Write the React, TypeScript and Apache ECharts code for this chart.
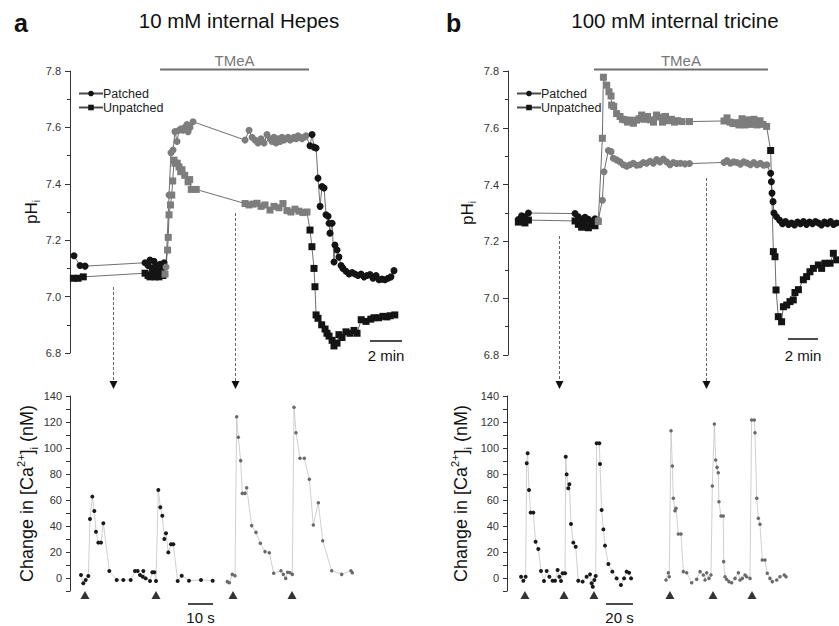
import React, { useEffect, useRef } from "react";
import * as echarts from "echarts";

// ---------- data ----------
// Panel a (10 mM Hepes): time in minutes, pHi
const patchedA: number[][] = [
  [0.25, 7.145], [0.63, 7.11], [0.94, 7.108], [4.69, 7.12], [4.88, 7.11], [5.0, 7.13], [5.13, 7.1], [5.25, 7.125],
  [5.38, 7.11], [5.5, 7.09], [5.63, 7.115], [5.75, 7.1], [5.88, 7.12], [6.0, 7.105], [6.19, 7.36], [6.31, 7.51],
  [6.44, 7.52], [6.56, 7.585], [6.69, 7.55], [6.81, 7.59], [6.94, 7.595], [7.06, 7.59], [7.19, 7.6], [7.31, 7.61],
  [7.38, 7.585], [7.5, 7.6], [7.69, 7.62], [10.94, 7.555], [11.19, 7.59], [11.38, 7.565], [11.56, 7.555],
  [11.75, 7.545], [11.94, 7.56], [12.13, 7.545], [12.31, 7.575], [12.5, 7.56], [12.63, 7.55], [12.75, 7.565],
  [12.88, 7.545], [13.0, 7.56], [13.13, 7.55], [13.25, 7.565], [13.38, 7.555], [13.5, 7.56], [13.63, 7.565],
  [13.75, 7.555], [13.88, 7.56], [14.0, 7.565], [14.13, 7.56], [14.25, 7.57], [14.38, 7.565], [14.5, 7.56],
  [14.63, 7.565], [14.75, 7.57], [15.0, 7.535], [15.13, 7.575], [15.25, 7.53], [15.38, 7.527], [15.5, 7.42],
  [15.63, 7.32], [15.75, 7.39], [15.88, 7.385], [16.0, 7.29], [16.13, 7.285], [16.19, 7.26], [16.25, 7.225],
  [16.38, 7.26], [16.5, 7.123], [16.56, 7.183], [16.69, 7.165], [16.81, 7.14], [16.94, 7.11], [17.06, 7.1],
  [17.25, 7.09], [17.44, 7.08], [17.63, 7.085], [17.81, 7.08], [18.0, 7.075], [18.19, 7.08], [18.38, 7.07],
  [18.56, 7.075], [18.75, 7.078], [18.94, 7.065], [19.13, 7.075], [19.31, 7.06], [19.5, 7.062], [19.69, 7.06],
  [19.88, 7.065], [20.06, 7.07], [20.25, 7.092],
];
const unpatchedA: number[][] = [
  [0.21, 7.065], [0.5, 7.065], [0.83, 7.07], [4.69, 7.083], [4.88, 7.075], [5.0, 7.07], [5.13, 7.08], [5.31, 7.07],
  [5.44, 7.085], [5.56, 7.07], [5.69, 7.08], [5.81, 7.075], [5.94, 7.08], [6.1, 7.165], [6.14, 7.21], [6.19, 7.29],
  [6.28, 7.325], [6.36, 7.36], [6.42, 7.41], [6.5, 7.484], [6.56, 7.473], [6.7, 7.473], [6.81, 7.46], [6.92, 7.443],
  [7.0, 7.45], [7.17, 7.43], [7.38, 7.407], [7.48, 7.415], [7.58, 7.38], [7.89, 7.38], [10.94, 7.33], [11.19, 7.325],
  [11.44, 7.328], [11.69, 7.331], [11.94, 7.32], [12.19, 7.325], [12.5, 7.307], [12.75, 7.32], [13.06, 7.315],
  [13.31, 7.33], [13.56, 7.305], [13.81, 7.3], [14.06, 7.31], [14.31, 7.303], [14.56, 7.298], [14.81, 7.3],
  [15.0, 7.236], [15.12, 7.177], [15.25, 7.1], [15.31, 7.035], [15.38, 6.935], [15.5, 6.923], [15.73, 6.9],
  [15.94, 6.885], [16.06, 6.87], [16.19, 6.86], [16.38, 6.845], [16.5, 6.825], [16.69, 6.835], [16.81, 6.865],
  [17.0, 6.855], [17.25, 6.875], [17.5, 6.87], [17.75, 6.88], [17.94, 6.87], [18.2, 6.918], [18.5, 6.912],
  [18.8, 6.92], [19.0, 6.925], [19.3, 6.925], [19.56, 6.93], [19.8, 6.928], [20.0, 6.932], [20.3, 6.935],
];
// Panel b (100 mM tricine)
const patchedB: number[][] = [
  [0.69, 7.277], [0.91, 7.29], [1.13, 7.287], [1.36, 7.3], [4.47, 7.298], [4.69, 7.287], [4.91, 7.275], [5.13, 7.285],
  [5.36, 7.278], [5.58, 7.268], [5.8, 7.28], [6.02, 7.275], [6.29, 7.345], [6.4, 7.445], [6.69, 7.52], [6.87, 7.516],
  [7.02, 7.493], [7.24, 7.487], [7.47, 7.48], [7.69, 7.47], [7.91, 7.465], [8.13, 7.47], [8.35, 7.475], [8.58, 7.468],
  [8.8, 7.47], [9.02, 7.478], [9.24, 7.475], [9.47, 7.482], [9.69, 7.475], [9.91, 7.488], [10.13, 7.48], [10.35, 7.49],
  [10.58, 7.48], [10.8, 7.47], [11.02, 7.478], [11.24, 7.474], [11.5, 7.475], [11.8, 7.473], [12.1, 7.474],
  [14.4, 7.478], [14.6, 7.485], [14.82, 7.475], [15.04, 7.48], [15.27, 7.478], [15.49, 7.472], [15.71, 7.48],
  [15.93, 7.476], [16.16, 7.47], [16.38, 7.478], [16.6, 7.47], [16.82, 7.475], [17.04, 7.468], [17.26, 7.47],
  [17.51, 7.44], [17.56, 7.41], [17.6, 7.37], [17.67, 7.34], [17.73, 7.3], [17.9, 7.287], [18.1, 7.275], [18.3, 7.262],
  [18.5, 7.27], [18.7, 7.26], [18.9, 7.265], [19.1, 7.258], [19.3, 7.268], [19.5, 7.262], [19.7, 7.27], [19.9, 7.26],
  [20.1, 7.268], [20.3, 7.262], [20.5, 7.27], [20.7, 7.265], [20.9, 7.258], [21.1, 7.268], [21.3, 7.262], [21.5, 7.27],
  [21.7, 7.26], [21.9, 7.265],
];
const unpatchedB: number[][] = [
  [0.69, 7.268], [0.91, 7.275], [1.13, 7.265], [1.36, 7.275], [4.47, 7.272], [4.69, 7.26], [4.91, 7.25], [5.13, 7.265],
  [5.36, 7.248], [5.58, 7.26], [5.8, 7.255], [6.02, 7.27], [6.29, 7.563], [6.36, 7.778], [6.58, 7.75], [6.73, 7.727],
  [6.87, 7.712], [6.91, 7.68], [7.05, 7.675], [7.24, 7.65], [7.47, 7.64], [7.63, 7.63], [7.8, 7.628], [7.97, 7.62],
  [8.13, 7.627], [8.36, 7.616], [8.58, 7.627], [8.75, 7.632], [8.91, 7.645], [9.1, 7.63], [9.3, 7.64], [9.5, 7.628],
  [9.7, 7.62], [9.9, 7.645], [10.1, 7.638], [10.3, 7.62], [10.5, 7.64], [10.7, 7.625], [10.9, 7.63], [11.1, 7.62],
  [11.3, 7.625], [11.6, 7.622], [12.1, 7.622], [14.4, 7.624], [14.6, 7.635], [14.8, 7.62], [15.0, 7.615],
  [15.2, 7.618], [15.4, 7.61], [15.6, 7.632], [15.8, 7.61], [16.0, 7.628], [16.2, 7.612], [16.4, 7.63], [16.6, 7.61],
  [16.8, 7.625], [17.0, 7.612], [17.24, 7.605], [17.51, 7.52], [17.69, 7.164], [17.8, 7.146], [17.87, 7.029],
  [18.02, 6.935], [18.24, 6.917], [18.36, 6.97], [18.58, 6.976], [18.8, 6.988], [19.02, 6.994], [19.13, 7.02],
  [19.36, 7.03], [19.69, 7.065], [19.91, 7.076], [20.13, 7.093], [20.36, 7.105], [20.69, 7.117], [20.91, 7.105],
  [21.13, 7.123], [21.47, 7.123], [21.69, 7.158], [21.91, 7.135],
];
// TMeA application windows (minutes)
const tmeaA = [5.63, 14.94];
const tmeaB = [5.73, 17.33];
// times (min) where the Ca2+ recordings were taken
const arrowsA = [2.69, 10.31];
const arrowsB = [3.4, 13.2];

// Ca2+ transients: time (s), change in [Ca2+]i (nM)
const caBeforeA: number[][] = [
  [4.4, 2.3], [5.33, -4.1], [6.27, -1.5], [7.33, 1.5], [8.0, 45.4], [8.93, 62.6], [9.73, 51.5], [10.4, 35.6],
  [11.33, 27.2], [12.4, 27.2], [13.33, 42.1], [15.73, 5.4], [18.67, -1.5], [21.33, -1.5], [24.27, -1.5], [26.0, 5.4],
  [27.07, 5.4], [28.0, 2.3], [29.07, 1.0], [29.33, 5.4], [30.27, -0.3], [32.0, -2.3], [32.93, 4.4], [33.73, 4.4],
  [34.4, -2.3], [35.33, 67.7], [36.13, 54.4], [36.93, 47.9], [37.73, 30.0], [38.4, 34.4], [39.33, 19.7], [40.4, 25.9],
  [41.33, 25.9], [43.07, -2.3], [44.67, 1.8], [47.6, -2.1], [52.4, -1.5], [57.07, -2.1],
];
const caDuringA: number[][] = [
  [62.93, -2.8], [63.73, -3.6], [64.93, 2.8], [66.0, 1.8], [66.67, 124.1], [67.33, 108.2], [68.27, 90.3],
  [68.93, 65.1], [70.0, 65.1], [70.67, 69.5], [72.67, 40.3], [74.4, 35.1], [76.13, 26.7], [78.0, 20.3], [79.73, 19.5],
  [81.47, 3.6], [84.4, 5.6], [85.33, 2.8], [86.27, -0.3], [87.07, 4.4], [88.0, 4.1], [88.93, 2.8], [89.6, 131.3],
  [90.4, 111.8], [92.0, 92.1], [93.73, 92.1], [95.73, 75.9], [97.33, 40.8], [99.33, 57.9], [101.07, 28.7],
  [104.67, 5.6], [108.67, 2.8], [112.4, 5.6], [112.93, 4.1],
];
const stimA = [6.0, 34.4, 65.2, 88.8];

const caBeforeB: number[][] = [
  [10.4, 1.0], [12.1, -2.1], [13.8, 1.0], [14.6, 88.2], [15.3, 95.9], [16.3, 67.7], [17.5, 50.3], [19.5, 50.3],
  [21.2, 27.9], [23.2, 22.3], [25.2, 5.4], [27.4, -2.3], [29.4, 5.4], [31.4, 1.0], [33.8, -2.1], [35.6, -2.1],
  [37.5, 6.2], [38.8, 1.0], [40.0, -2.3], [41.2, 3.6], [43.0, 3.6], [43.5, 93.3], [44.2, 79.7], [45.4, 69.0],
  [46.2, 72.1], [47.4, 41.5], [49.1, 27.2], [50.9, 24.1], [52.8, -2.1], [56.0, -2.8], [59.0, 1.0], [61.5, 2.8],
  [62.7, -4.1], [63.5, -6.7], [64.7, -1.5], [65.7, 1.5], [66.4, 103.6], [68.4, 103.6], [68.9, 87.7], [70.1, 52.3],
  [71.4, 37.4], [72.6, 24.9], [75.1, 10.8], [78.0, 4.9], [81.2, -0.3], [84.4, -5.4], [86.7, -0.3], [88.6, 4.9],
  [90.4, 4.1], [91.9, -0.3],
];
const caDuringB: number[][] = [
  [117.8, -1.5], [119.5, 4.1], [120.2, 1.0], [121.5, 113.3], [122.5, 86.2], [123.2, 61.3], [124.4, 51.8],
  [125.2, 53.6], [126.9, 33.8], [128.9, 33.8], [130.6, 4.9], [133.1, 4.1], [136.8, -3.6], [140.5, -1.0], [143.0, 4.9],
  [145.4, 2.3], [146.7, -1.5], [147.9, 4.1], [149.6, -0.3], [151.1, 2.3], [152.1, 70.8], [153.6, 118.5], [154.6, 90.8],
  [155.6, 85.1], [156.5, 81.0], [157.0, 58.7], [158.5, 47.7], [160.2, 47.7], [160.5, 12.6], [161.5, 1.0],
  [162.7, -1.0], [164.4, -2.8], [166.4, -3.6], [168.9, -0.3], [171.4, 4.1], [172.6, -1.5], [174.3, -0.3],
  [176.3, 2.3], [177.5, 1.0], [180.0, -0.3], [181.2, 121.5], [183.2, 121.5], [183.7, 111.8], [185.0, 61.3],
  [186.2, 45.9], [187.4, 41.3], [189.1, 13.8], [191.1, 13.8], [192.8, 3.6], [194.8, -0.3], [196.5, -2.8],
  [199.8, -1.5], [202.2, 1.0], [205.4, 2.3], [206.7, 1.0],
];
const stimB = [13.3, 42.2, 64.4, 120.7, 152.6, 181.5];

const titleA = "10 mM internal Hepes";
const titleB = "100 mM internal tricine";
const phTicks = [6.8, 7.8];
const caTicks = [-10, 140];

// ---------- layout ----------
const FONT = "'Liberation Sans', Arial, Helvetica, sans-serif";
const BLACK = "#141414";
const GRAY = "#7d7d7d";
const AXIS = "#333";

const GRIDS = [
  { left: 70, top: 71, width: 336, height: 282, xMax: 21 },
  { left: 508, top: 71, width: 330, height: 284, xMax: 22 },
  { left: 70, top: 396, width: 300, height: 195, xMax: 120 },
  { left: 507, top: 396, width: 297, height: 195, xMax: 220 },
];
const px = (g: number, x: number) => GRIDS[g].left + (x / GRIDS[g].xMax) * GRIDS[g].width;

function colored(d: number[][], win: number[]) {
  return d.map((p) => ({
    value: p,
    itemStyle: { color: p[0] >= win[0] && p[0] <= win[1] + 0.01 && p[0] > win[0] + 0.25 ? GRAY : BLACK },
  }));
}

export default function App() {
  const ref = useRef<HTMLDivElement>(null);
  useEffect(() => {
    const chart = echarts.init(ref.current!, null, { renderer: "svg" });

    const topY = (g: number, nameGap: number) => ({
      type: "value",
      gridIndex: g,
      min: phTicks[0],
      max: phTicks[1],
      interval: 0.2,
      name: "{m|pH}{s|i}",
      nameLocation: "middle",
      nameGap,
      nameRotate: 90,
      nameTextStyle: {
        rich: {
          m: { fontSize: 17, fontFamily: FONT, color: "#111", lineHeight: 20 },
          s: { fontSize: 10, fontFamily: FONT, color: "#111", lineHeight: 20, verticalAlign: "bottom" },
        },
      },
      axisLine: { show: true, lineStyle: { color: AXIS, width: 1 } },
      axisTick: { show: true, length: 5, lineStyle: { color: AXIS } },
      minorTick: { show: true, splitNumber: 2, length: 3, lineStyle: { color: AXIS } },
      splitLine: { show: false },
      axisLabel: { fontSize: 11, fontFamily: FONT, color: "#333", margin: 9, formatter: (v: number) => v.toFixed(1) },
    });
    const botY = (g: number, nameGap: number) => ({
      type: "value",
      gridIndex: g,
      min: caTicks[0],
      max: caTicks[1],
      interval: 10,
      name: "{m|Change in [Ca}{sup|2+}{m|]}{sub|i}{m| (nM)}",
      nameLocation: "middle",
      nameGap,
      nameRotate: 90,
      nameTextStyle: {
        rich: {
          m: { fontSize: 18, fontFamily: FONT, color: "#111", lineHeight: 24 },
          sup: { fontSize: 11, fontFamily: FONT, color: "#111", lineHeight: 24, verticalAlign: "top" },
          sub: { fontSize: 11, fontFamily: FONT, color: "#111", lineHeight: 24, verticalAlign: "bottom" },
        },
      },
      axisLine: { show: true, lineStyle: { color: AXIS, width: 1 } },
      axisTick: { show: true, length: 4, lineStyle: { color: AXIS } },
      splitLine: { show: false },
      axisLabel: {
        fontSize: 11,
        fontFamily: FONT,
        color: "#333",
        margin: 8,
        formatter: (v: number) => (v >= 0 && v % 20 === 0 ? String(v) : ""),
      },
    });

    const topLine = (name: string, d: number[][], win: number[], g: number, symbol: string) => ({
      type: "line",
      name,
      xAxisIndex: g,
      yAxisIndex: g,
      data: colored(d, win),
      symbol,
      symbolSize: 7,
      showAllSymbol: true,
      itemStyle: { color: BLACK },
      lineStyle: { color: "#4a4a4a", width: 0.8 },
      emphasis: { disabled: true },
    });
    const caLine = (d: number[][], g: number, color: string, size: number) => ({
      type: "line",
      xAxisIndex: g,
      yAxisIndex: g,
      data: d,
      symbol: "circle",
      symbolSize: size,
      showAllSymbol: true,
      itemStyle: { color },
      lineStyle: { color: "#c4c4c4", width: 0.8 },
      emphasis: { disabled: true },
    });
    const stim = (d: number[], g: number) => ({
      type: "scatter",
      xAxisIndex: g,
      yAxisIndex: g,
      clip: false,
      symbol: "triangle",
      symbolSize: [9, 8],
      itemStyle: { color: "#000" },
      data: d.map((t) => [t, -13]),
    });

    const arrow = (g: number, t: number, y0: number) => {
      const x = Math.round(px(g, t)) + 0.5;
      return [
        { type: "line", shape: { x1: x, y1: y0, x2: x, y2: 382 }, style: { stroke: "#666", lineWidth: 1, lineDash: [3, 2] } },
        { type: "polygon", shape: { points: [[x - 4, 381], [x + 4, 381], [x, 389]] }, style: { fill: "#111" } },
      ];
    };
    const scaleBar = (g: number, x0: number, len: number, y: number, label: string, ty: number) => {
      const a = px(g, x0);
      const b = px(g, x0 + len);
      return [
        { type: "line", shape: { x1: a, y1: y, x2: b, y2: y }, style: { stroke: "#111", lineWidth: 1.5 } },
        {
          type: "text",
          x: (a + b) / 2,
          y: ty,
          style: { text: label, fontSize: 15, fontFamily: FONT, fill: "#111", align: "center", verticalAlign: "middle" },
        },
      ];
    };
    const tmea = (g: number, win: number[]) => {
      const a = px(g, win[0]);
      const b = px(g, win[1]);
      return [
        { type: "line", shape: { x1: a, y1: 69.5, x2: b, y2: 69.5 }, style: { stroke: "#6f6f6f", lineWidth: 2 } },
        {
          type: "text",
          x: (a + b) / 2,
          y: 60,
          style: { text: "TMeA", fontSize: 15, fontFamily: FONT, fill: "#777", align: "center", verticalAlign: "middle" },
        },
      ];
    };

    const option: any = {
      animation: false,
      backgroundColor: "#fff",
      grid: GRIDS.map((g) => ({ left: g.left, top: g.top, width: g.width, height: g.height })),
      xAxis: GRIDS.map((g, i) => ({ type: "value", gridIndex: i, min: 0, max: g.xMax, show: false })),
      yAxis: [topY(0, 21), topY(1, 31), botY(2, 31), botY(3, 34)],
      legend: [
        {
          left: 73, top: 82, orient: "vertical", itemGap: 1, itemWidth: 24, itemHeight: 7,
          textStyle: { fontSize: 12.5, fontFamily: FONT, color: "#222", padding: [0, 0, 0, -5] },
          data: ["Patched", "Unpatched"], selectedMode: false,
        },
        {
          left: 511, top: 82, orient: "vertical", itemGap: 1, itemWidth: 24, itemHeight: 7,
          textStyle: { fontSize: 12.5, fontFamily: FONT, color: "#222", padding: [0, 0, 0, -5] },
          data: ["Patched", "Unpatched"], selectedMode: false,
        },
      ],
      series: [
        topLine("Patched", patchedA, tmeaA, 0, "circle"),
        topLine("Unpatched", unpatchedA, tmeaA, 0, "rect"),
        topLine("Patched", patchedB, tmeaB, 1, "circle"),
        topLine("Unpatched", unpatchedB, tmeaB, 1, "rect"),
        caLine(caBeforeA, 2, "#1a1a1a", 4),
        caLine(caDuringA, 2, "#6a6a6a", 3.5),
        caLine(caBeforeB, 3, "#1a1a1a", 4),
        caLine(caDuringB, 3, "#6a6a6a", 3.5),
        stim(stimA, 2),
        stim(stimB, 3),
      ],
      graphic: [
        { type: "text", x: 14, y: 23, style: { text: "a", fontSize: 25, fontWeight: "bold", fontFamily: FONT, fill: "#111", verticalAlign: "middle" } },
        { type: "text", x: 446, y: 23, style: { text: "b", fontSize: 25, fontWeight: "bold", fontFamily: FONT, fill: "#111", verticalAlign: "middle" } },
        { type: "text", x: 239, y: 20, style: { text: titleA, fontSize: 20.5, fontFamily: FONT, fill: "#111", align: "center", verticalAlign: "middle" } },
        { type: "text", x: 675, y: 20, style: { text: titleB, fontSize: 20.5, fontFamily: FONT, fill: "#111", align: "center", verticalAlign: "middle" } },
        ...tmea(0, tmeaA),
        ...tmea(1, tmeaB),
        ...arrow(0, arrowsA[0], 287),
        ...arrow(0, arrowsA[1], 213),
        ...arrow(1, arrowsB[0], 236),
        ...arrow(1, arrowsB[1], 178),
        ...scaleBar(0, 18.75, 2, 341, "2 min", 355),
        ...scaleBar(1, 18.67, 2, 339, "2 min", 355),
        ...scaleBar(2, 47.2, 10, 604, "10 s", 617),
        ...scaleBar(3, 73.3, 20, 604, "20 s", 617),
      ],
    };
    chart.setOption(option);
    return () => chart.dispose();
  }, []);
  return <div ref={ref} style={{ position: "fixed", left: 0, top: 0, width: 839, height: 626 }} />;
}
